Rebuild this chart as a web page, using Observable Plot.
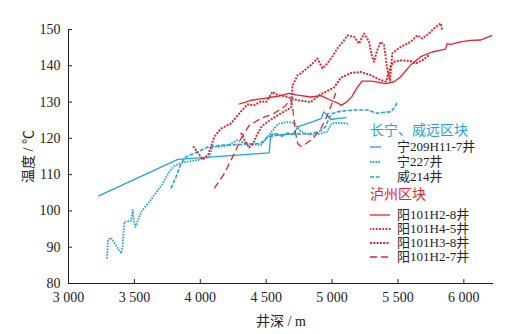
<!DOCTYPE html>
<html><head><meta charset="utf-8">
<script src="https://cdn.jsdelivr.net/npm/d3@7"></script>
<script src="https://cdn.jsdelivr.net/npm/@observablehq/plot@0.6"></script>
<style>
body{margin:0;background:#fff;}
#wrap{position:relative;width:505px;height:334px;overflow:hidden;}
#legend{position:absolute;left:0;top:0;font-family:"Liberation Serif","Noto Sans CJK SC",serif;font-size:13px;line-height:13px;color:#222;}
.row{position:absolute;white-space:nowrap;display:flex;align-items:center;height:13px;}
.row svg{display:block;}
.row span{display:inline-block;height:13px;line-height:13px;overflow:visible;}
</style>
</head><body><div id="wrap"><div id="legend"></div></div>
<script>
// ---- data (depth in m, temperature in °C) ----
const xTicks = [3000, 3500, 4000, 4500, 5000, 5500, 6000];
const yTicks = [80, 90, 100, 110, 120, 130, 140, 150];
const groupNames = ["长宁、威远区块", "泸州区块"];
const seriesNames = ["宁209H11-7井", "宁227井", "威214井", "阳101H2-8井", "阳101H4-5井", "阳101H3-8井", "阳101H2-7井"];

const n209Depth = [3226,3830,4523,4535,4580,4620,4660,4700,4745,4790,4860,4920,4935,4960,4990,5050,5110];
const n209Temp  = [104.1,114.2,116.0,121.0,121.3,120.5,121.5,121.0,123.3,123.8,124.7,125.5,127.3,126.5,125.2,125.5,125.7];

const n227Depth = [3291,3300,3323,3399,3410,3424,3475,3488,3495,3508,3551,3651,3715,3765,3800,3854,4005,4068,4094,4132,4208,4283,4350,4460,4510,4590,4660,4710,4760,4800,4850,4900,4960,5000,5060,5130];
const n227Temp  = [86.9,92.0,92.6,88.3,90.5,97.0,97.3,100.2,97.4,95.6,99.7,104.3,107.6,110.8,112.3,113.2,114.2,114.9,117.8,117.6,118.1,119.5,118.6,118.1,120.4,124.0,124.5,124.3,122.0,121.3,121.0,121.2,121.8,124.2,124.3,124.0];

const w214Depth = [3778,3816,3854,3892,4005,4056,4157,4300,4460,4510,4586,4700,4839,4900,4950,4980,5000,5040,5100,5164,5268,5344,5400,5445,5475,5495];
const w214Temp  = [106.2,109.4,113.1,114.9,116.7,117.6,118.1,118.3,118.6,120.4,120.9,121.2,121.3,121.8,123.2,125.8,126.8,127.3,127.6,127.8,127.8,126.9,127.2,127.3,128.5,130.0];

const y28Depth = [4290,4385,4485,4586,4674,4738,4839,4915,4990,5040,5070,5110,5150,5190,5230,5300,5407,5470,5519,5596,5672,5760,5824,5860,5874,5900,5975,6050,6126,6215];
const y28Temp  = [129.4,130.5,131.0,131.6,132.4,131.9,131.4,131.8,130.5,129.8,129.1,130.0,131.5,134.0,135.8,135.8,135.1,135.6,136.9,140.2,142.5,143.8,144.3,144.6,146.1,145.9,146.6,147.0,147.1,148.4];

const y45Depth = [3950,4018,4060,4106,4157,4233,4296,4359,4409,4460,4500,4548,4586,4662,4738,4839,4902,4960,5015,5066,5142,5218,5293,5360,5410,5445,5470,5520,5596,5634,5685,5735];
const y45Temp  = [117.6,114.2,115.5,120.4,122.7,124.1,126.9,129.4,129.1,130.2,130.0,132.8,132.0,131.4,130.5,130.0,131.9,133.0,134.0,136.7,138.0,138.3,137.4,136.2,135.6,140.0,141.1,141.5,141.3,140.6,141.5,142.9];

const y38Depth = [4310,4340,4370,4400,4430,4470,4550,4640,4690,4700,4738,4763,4839,4889,4927,4965,5000,5041,5080,5117,5167,5205,5243,5281,5300,5318,5340,5369,5394,5420,5440,5457,5520,5596,5647,5685,5735,5773,5824,5836];
const y38Temp  = [121.5,119.2,117.5,118.5,121.0,123.5,125.5,127.5,128.5,134.5,137.4,137.9,140.2,142.0,139.3,140.7,142.5,144.8,146.5,148.4,148.0,146.1,148.9,146.6,143.0,141.1,144.0,146.6,145.7,138.8,136.0,143.4,145.2,146.6,148.4,147.5,148.9,150.3,151.7,149.8];

const y27Depth = [4106,4182,4258,4310,4370,4460,4561,4640,4687,4700,4720,4740,4763,4800,4850,4915,4965,5003,5028];
const y27Temp  = [106.2,110.3,115.8,120.0,123.5,125.5,126.9,128.8,130.8,129.0,122.0,118.5,117.8,118.5,119.8,122.7,126.4,130.0,132.5];

// ---- styles ----
const BLUE = "#1fa3e0", RED = "#e8212b";
const styles = [
  {color: BLUE, dash: null, w: 1.3, cap: "butt"},
  {color: BLUE, dash: "1.6,1.2", w: 1.8, cap: "butt"},
  {color: BLUE, dash: "4,1.6", w: 1.6, cap: "butt"},
  {color: RED, dash: null, w: 1.3, cap: "butt"},
  {color: RED, dash: "0.1,3.2", w: 2.2, cap: "round"},
  {color: RED, dash: "2,1.3", w: 1.9, cap: "butt"},
  {color: RED, dash: "7,4", w: 1.3, cap: "butt"}
];
const depths = [n209Depth, n227Depth, w214Depth, y28Depth, y45Depth, y38Depth, y27Depth];
const temps = [n209Temp, n227Temp, w214Temp, y28Temp, y45Temp, y38Temp, y27Temp];

const fmt = d => d3.format(",")(d).replace(",", " ");

const lineMarks = depths.map((ds, i) => {
  const data = ds.map((d, j) => ({depth: d, temp: temps[i][j]}));
  const s = styles[i];
  const opts = {x: "depth", y: "temp", stroke: s.color, strokeWidth: s.w, strokeLinecap: s.cap, strokeLinejoin: "round"};
  if (s.dash) opts.strokeDasharray = s.dash;
  return Plot.line(data, opts);
});

const chart = Plot.plot({
  width: 505, height: 334,
  marginTop: 29, marginLeft: 68, marginRight: 12, marginBottom: 51,
  style: {fontFamily: "'Liberation Serif','Noto Sans CJK SC',serif", fontSize: "14px", color: "#222", background: "#fff"},
  x: {domain: [3000, 6225]},
  y: {domain: [80, 150]},
  marks: [
    Plot.axisX({ticks: xTicks, tickSize: -4, tickPadding: 13, tickFormat: fmt, label: "井深 / m", labelAnchor: "center", labelOffset: 42, labelArrow: "none", fontSize: 14}),
    Plot.axisY({ticks: yTicks, tickSize: -4, tickPadding: 12, label: "温度 / ℃", labelAnchor: "center", labelOffset: 45, labelArrow: "none", fontSize: 14}),
    Plot.ruleY([80], {stroke: "#222"}),
    Plot.ruleX([3000], {stroke: "#222"}),
    ...lineMarks
  ]
});
const wrap = document.getElementById("wrap");
wrap.insertBefore(chart, wrap.firstChild);

// ---- legend ----
const legend = document.getElementById("legend");
const rowsTop = [124, 140, 155, 170, 188, 208, 222, 236, 250];
const items = [
  {head: groupNames[0], color: BLUE},
  {s: 0}, {s: 1}, {s: 2},
  {head: groupNames[1], color: RED},
  {s: 3}, {s: 4}, {s: 5}, {s: 6}
];
items.forEach((it, k) => {
  const row = document.createElement("div");
  row.className = "row";
  row.style.top = rowsTop[k] + "px";
  row.style.left = "370px";
  if (it.head) {
    const t = document.createElement("span");
    t.textContent = it.head;
    row.style.color = it.color;
    row.style.fontSize = "14px";
    row.appendChild(t);
  } else {
    const s = styles[it.s];
    const len = it.s < 3 ? 11 : 20;
    const ns = "http://www.w3.org/2000/svg";
    const svg = document.createElementNS(ns, "svg");
    svg.setAttribute("width", 27); svg.setAttribute("height", 8);
    const ln = document.createElementNS(ns, "line");
    ln.setAttribute("x1", 0); ln.setAttribute("x2", len);
    ln.setAttribute("y1", 4); ln.setAttribute("y2", 4);
    ln.setAttribute("stroke", s.color);
    ln.setAttribute("stroke-width", s.w);
    ln.setAttribute("stroke-linecap", s.cap);
    if (s.dash) ln.setAttribute("stroke-dasharray", s.dash);
    svg.appendChild(ln);
    row.appendChild(svg);
    const t = document.createElement("span");
    t.textContent = seriesNames[it.s];
    row.appendChild(t);
  }
  legend.appendChild(row);
});
</script>
</body></html>
